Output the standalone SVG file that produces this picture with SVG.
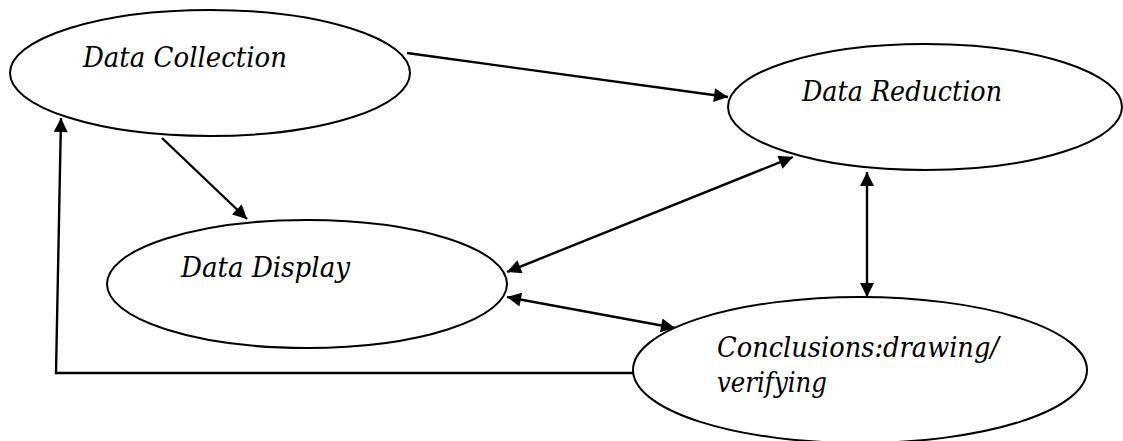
<svg xmlns="http://www.w3.org/2000/svg" width="1123" height="441" viewBox="0 0 1123 441">
<style>
.node ellipse{fill:#fff;stroke:#000;stroke-width:2}
.lbl{font-family:'DejaVu Serif',serif;font-style:italic;font-size:27px;fill:#000}
.edge{fill:none;stroke:#000;stroke-width:2.4}
</style>
<defs>
<marker id="ah" viewBox="0 0 10 10" refX="10" refY="5" markerWidth="17" markerHeight="14" markerUnits="userSpaceOnUse" orient="auto-start-reverse">
<path d="M0,0 L10,5 L0,10 z" fill="#000"/>
</marker>
</defs>
<rect width="1123" height="441" fill="#fff"/>
<g id="connectors">
<line class="edge" x1="407" y1="53" x2="728" y2="97" marker-end="url(#ah)"/>
<line class="edge" x1="162" y1="138" x2="247" y2="219" marker-end="url(#ah)"/>
<line class="edge" x1="507" y1="272" x2="793" y2="157" marker-start="url(#ah)" marker-end="url(#ah)"/>
<line class="edge" x1="507" y1="297" x2="675" y2="328" marker-start="url(#ah)" marker-end="url(#ah)"/>
<line class="edge" x1="867" y1="172" x2="867" y2="297" marker-start="url(#ah)" marker-end="url(#ah)"/>
<polyline class="edge" points="634,373 56,373 61,118" marker-end="url(#ah)"/>
</g>
<g id="data-collection" class="node">
<ellipse cx="210" cy="73" rx="200" ry="63"/>
<text class="lbl" x="83" y="67" textLength="204" lengthAdjust="spacingAndGlyphs">Data Collection</text>
</g>
<g id="data-reduction" class="node">
<ellipse cx="925" cy="107" rx="197" ry="63"/>
<text class="lbl" x="802" y="101" textLength="200" lengthAdjust="spacingAndGlyphs">Data Reduction</text>
</g>
<g id="data-display" class="node">
<ellipse cx="307" cy="284" rx="200" ry="64"/>
<text class="lbl" x="181" y="277" textLength="169" lengthAdjust="spacingAndGlyphs">Data Display</text>
</g>
<g id="conclusions" class="node">
<ellipse cx="860" cy="370" rx="227" ry="73"/>
<text class="lbl" x="717" y="357" textLength="282" lengthAdjust="spacingAndGlyphs">Conclusions:drawing/</text>
<text class="lbl" x="717" y="392" textLength="110" lengthAdjust="spacingAndGlyphs">verifying</text>
</g>
</svg>
